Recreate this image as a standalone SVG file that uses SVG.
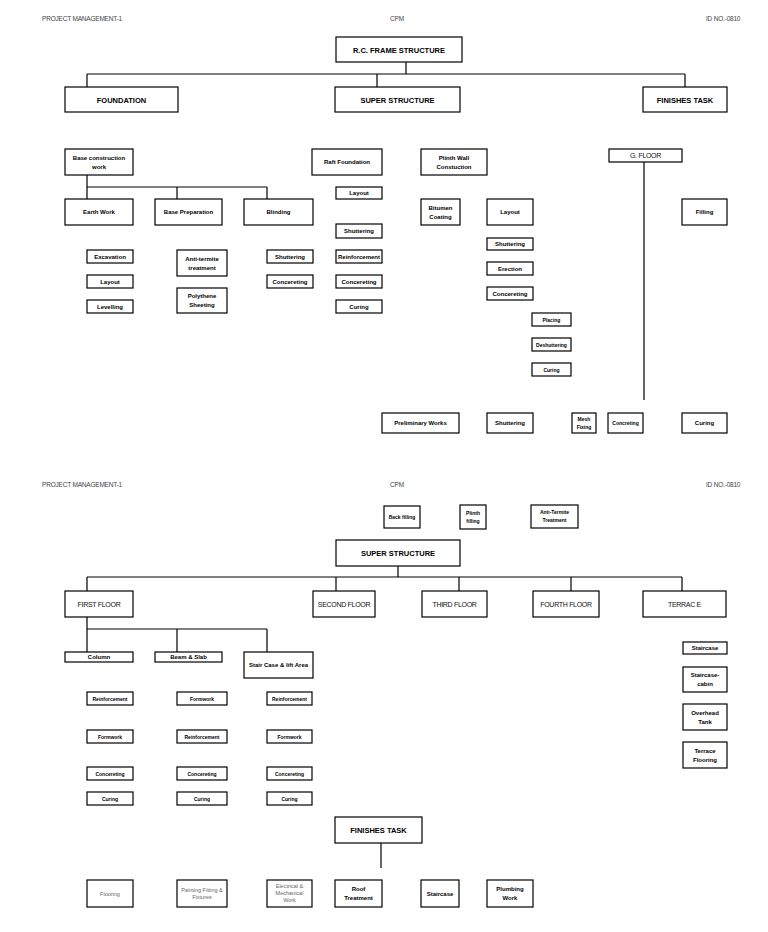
<svg xmlns="http://www.w3.org/2000/svg" width="768" height="932" viewBox="0 0 768 932">
<style>
.b{fill:#fff;stroke:#000;stroke-width:1.2}
.t{font-family:"Liberation Sans Narrow","Arial Narrow","Liberation Sans",sans-serif;font-weight:bold;font-size:6px;text-anchor:middle;fill:#000}
.m{font-size:7.5px}
.c{font-family:"Liberation Sans",Arial,sans-serif;font-weight:normal;font-size:7px;fill:#111;letter-spacing:-0.3px}
.g{font-family:"Liberation Sans",Arial,sans-serif;font-weight:normal;font-size:5.5px;fill:#666}
.s{font-size:5px}
.h{font-family:"Liberation Sans",Arial,sans-serif;font-size:6.5px;fill:#444;letter-spacing:-0.2px}
.e path,.e line{stroke:#000;stroke-width:1.2;fill:none}
</style>
<rect width="768" height="932" fill="#fff"/>
<g id="headers">
<text class="h" x="42" y="21">PROJECT MANAGEMENT-1</text>
<text class="h" x="390" y="21">CPM</text>
<text class="h" x="706" y="21">ID NO.-0810</text>
<text class="h" x="42" y="487">PROJECT MANAGEMENT-1</text>
<text class="h" x="390" y="487">CPM</text>
<text class="h" x="706" y="487">ID NO.-0810</text>
</g>
<g id="connectors" class="e">
<path d="M406 62V74M87 74H685M87 74V87M377 74V87M685 74V87"/>
<path d="M87 175V187H267M87 187V199M177 187V199M267 187V199"/>
<path d="M644 162V400"/>
<path d="M398 566V577M87 577H682M87 577V591M336 577V591M459 577V591M571 577V591M682 577V591"/>
<path d="M87 617V629H267M87 629V652M177 629V652M267 629V652"/>
<path d="M381 843V868"/>
</g>
<g id="rc"><rect class="b" x="336" y="37" width="126" height="25"/><text class="t m" x="399" y="52.5">R.C. FRAME STRUCTURE</text></g>
<g id="foundation"><rect class="b" x="65" y="87" width="113" height="25"/><text class="t m" x="121.5" y="102.5">FOUNDATION</text></g>
<g id="super1"><rect class="b" x="335" y="87" width="125" height="25"/><text class="t m" x="397.5" y="102.5">SUPER STRUCTURE</text></g>
<g id="finishes1"><rect class="b" x="643" y="87" width="84" height="25"/><text class="t m" x="685" y="102.5">FINISHES TASK</text></g>

<g id="basecon"><rect class="b" x="65" y="149" width="68" height="26"/><text class="t" x="99" y="159.5">Base construction</text><text class="t" x="99" y="168.5">work</text></g>
<g id="earth"><rect class="b" x="65" y="199" width="68" height="26"/><text class="t" x="99" y="214">Earth Work</text></g>
<g id="baseprep"><rect class="b" x="155" y="199" width="67" height="26"/><text class="t" x="188.5" y="214">Base Preparation</text></g>
<g id="blinding"><rect class="b" x="244" y="199" width="69" height="26"/><text class="t" x="278.5" y="214">Blinding</text></g>
<g id="excav"><rect class="b" x="87" y="250" width="46" height="13"/><text class="t" x="110" y="258.5">Excavation</text></g>
<g id="layout1"><rect class="b" x="87" y="275" width="46" height="13"/><text class="t" x="110" y="283.5">Layout</text></g>
<g id="level"><rect class="b" x="87" y="300" width="46" height="13"/><text class="t" x="110" y="308.5">Levelling</text></g>
<g id="antit"><rect class="b" x="177" y="250" width="50" height="26"/><text class="t" x="202" y="260.5">Anti-termite</text><text class="t" x="202" y="269.5">treatment</text></g>
<g id="poly"><rect class="b" x="177" y="288" width="50" height="25"/><text class="t" x="202" y="298">Polythene</text><text class="t" x="202" y="307">Sheeting</text></g>
<g id="shut1"><rect class="b" x="267" y="250" width="46" height="13"/><text class="t" x="290" y="258.5">Shuttering</text></g>
<g id="conc1"><rect class="b" x="267" y="275" width="46" height="13"/><text class="t" x="290" y="283.5">Concereting</text></g>

<g id="raft"><rect class="b" x="312" y="149" width="70" height="26"/><text class="t" x="347" y="164">Raft Foundation</text></g>
<g id="rlayout"><rect class="b" x="336" y="187" width="46" height="12"/><text class="t" x="359" y="195">Layout</text></g>
<g id="rshut"><rect class="b" x="336" y="224" width="46" height="14"/><text class="t" x="359" y="233">Shuttering</text></g>
<g id="rreinf"><rect class="b" x="336" y="250" width="46" height="13"/><text class="t" x="359" y="258.5">Reinforcement</text></g>
<g id="rconc"><rect class="b" x="336" y="275" width="46" height="13"/><text class="t" x="359" y="283.5">Concereting</text></g>
<g id="rcur"><rect class="b" x="336" y="300" width="46" height="13"/><text class="t" x="359" y="308.5">Curing</text></g>

<g id="plinth"><rect class="b" x="421" y="149" width="66" height="26"/><text class="t" x="454" y="159.5">Plinth Wall</text><text class="t" x="454" y="168.5">Constuction</text></g>
<g id="bitumen"><rect class="b" x="421" y="199" width="39" height="26"/><text class="t" x="440.5" y="209.5">Bitumen</text><text class="t" x="440.5" y="218.5">Coating</text></g>
<g id="playout"><rect class="b" x="487" y="199" width="46" height="26"/><text class="t" x="510" y="214">Layout</text></g>
<g id="pshut"><rect class="b" x="487" y="238" width="46" height="12"/><text class="t" x="510" y="246">Shuttering</text></g>
<g id="perect"><rect class="b" x="487" y="262" width="46" height="13"/><text class="t" x="510" y="270.5">Erection</text></g>
<g id="pconc"><rect class="b" x="487" y="287" width="46" height="13"/><text class="t" x="510" y="295.5">Concereting</text></g>
<g id="placing"><rect class="b" x="532" y="313" width="39" height="13"/><text class="t s" x="551.5" y="321.5">Placing</text></g>
<g id="deshut"><rect class="b" x="532" y="338" width="39" height="13"/><text class="t s" x="551.5" y="346.5">Deshuttering</text></g>
<g id="pcur"><rect class="b" x="532" y="363" width="39" height="13"/><text class="t s" x="551.5" y="371.5">Curing</text></g>

<g id="gfloor"><rect class="b" x="609" y="149" width="73" height="13"/><text class="t c" x="645.5" y="158">G. FLOOR</text></g>
<g id="filling"><rect class="b" x="682" y="199" width="45" height="26"/><text class="t" x="704.5" y="214">Filling</text></g>
<g id="prelim"><rect class="b" x="382" y="413" width="77" height="20"/><text class="t" x="420.5" y="425">Preliminary Works</text></g>
<g id="gshut"><rect class="b" x="487" y="413" width="46" height="20"/><text class="t" x="510" y="425">Shuttering</text></g>
<g id="mesh"><rect class="b" x="572" y="413" width="24" height="20"/><text class="t s" x="584" y="421">Mesh</text><text class="t s" x="584" y="428.5">Fixing</text></g>
<g id="gconc"><rect class="b" x="608" y="413" width="35" height="20"/><text class="t s" x="625.5" y="425">Concreting</text></g>
<g id="gcur"><rect class="b" x="682" y="413" width="45" height="20"/><text class="t" x="704.5" y="425">Curing</text></g>

<g id="backfill"><rect class="b" x="384" y="506" width="36" height="22"/><text class="t s" x="402" y="519">Back filling</text></g>
<g id="plinthfill"><rect class="b" x="460" y="505" width="26" height="24"/><text class="t s" x="473" y="514.5">Plinth</text><text class="t s" x="473" y="522.5">filling</text></g>
<g id="antiterm"><rect class="b" x="531" y="505" width="47" height="23"/><text class="t s" x="554.5" y="514">Anti-Termite</text><text class="t s" x="554.5" y="521.5">Treatment</text></g>
<g id="super2"><rect class="b" x="336" y="540" width="124" height="26"/><text class="t m" x="398" y="555.5">SUPER STRUCTURE</text></g>

<g id="firstfloor"><rect class="b" x="65" y="591" width="68" height="26"/><text class="t c" x="99" y="606.5">FIRST FLOOR</text></g>
<g id="secondfloor"><rect class="b" x="313" y="591" width="62" height="26"/><text class="t c" x="344" y="606.5">SECOND FLOOR</text></g>
<g id="thirdfloor"><rect class="b" x="422" y="591" width="65" height="26"/><text class="t c" x="454.5" y="606.5">THIRD FLOOR</text></g>
<g id="fourthfloor"><rect class="b" x="533" y="591" width="66" height="26"/><text class="t c" x="566" y="606.5">FOURTH FLOOR</text></g>
<g id="terrace"><rect class="b" x="643" y="591" width="83" height="26"/><text class="t c" x="684.5" y="606.5">TERRAC E</text></g>

<g id="column"><rect class="b" x="65" y="652" width="68" height="10"/><text class="t" x="99" y="659">Column</text></g>
<g id="beam"><rect class="b" x="155" y="652" width="67" height="10"/><text class="t" x="188.5" y="659">Beam &amp; Slab</text></g>
<g id="stair"><rect class="b" x="244" y="652" width="69" height="26"/><text class="t" x="278.5" y="667">Stair Case &amp; lift Area</text></g>

<g id="tstair"><rect class="b" x="683" y="642" width="44" height="12"/><text class="t" x="705" y="650">Staircase</text></g>
<g id="cabin"><rect class="b" x="683" y="667" width="44" height="25"/><text class="t" x="705" y="677">Staircase-</text><text class="t" x="705" y="686">cabin</text></g>
<g id="overhead"><rect class="b" x="683" y="704" width="44" height="26"/><text class="t" x="705" y="714.5">Overhead</text><text class="t" x="705" y="723.5">Tank</text></g>
<g id="tfloor"><rect class="b" x="683" y="742" width="44" height="26"/><text class="t" x="705" y="752.5">Terrace</text><text class="t" x="705" y="761.5">Flooring</text></g>

<g id="c1r1"><rect class="b" x="87" y="692" width="46" height="13"/><text class="t s" x="110" y="700.5">Reinforcement</text></g>
<g id="c1r2"><rect class="b" x="87" y="730" width="46" height="13"/><text class="t s" x="110" y="738.5">Formwork</text></g>
<g id="c1r3"><rect class="b" x="87" y="767" width="46" height="13"/><text class="t s" x="110" y="775.5">Concereting</text></g>
<g id="c1r4"><rect class="b" x="87" y="792" width="46" height="13"/><text class="t s" x="110" y="800.5">Curing</text></g>
<g id="c2r1"><rect class="b" x="177" y="692" width="50" height="13"/><text class="t s" x="202" y="700.5">Formwork</text></g>
<g id="c2r2"><rect class="b" x="177" y="730" width="50" height="13"/><text class="t s" x="202" y="738.5">Reinforcement</text></g>
<g id="c2r3"><rect class="b" x="177" y="767" width="50" height="13"/><text class="t s" x="202" y="775.5">Concereting</text></g>
<g id="c2r4"><rect class="b" x="177" y="792" width="50" height="13"/><text class="t s" x="202" y="800.5">Curing</text></g>
<g id="c3r1"><rect class="b" x="267" y="692" width="45" height="13"/><text class="t s" x="289.5" y="700.5">Reinforcement</text></g>
<g id="c3r2"><rect class="b" x="267" y="730" width="45" height="13"/><text class="t s" x="289.5" y="738.5">Formwork</text></g>
<g id="c3r3"><rect class="b" x="267" y="767" width="45" height="13"/><text class="t s" x="289.5" y="775.5">Concereting</text></g>
<g id="c3r4"><rect class="b" x="267" y="792" width="45" height="13"/><text class="t s" x="289.5" y="800.5">Curing</text></g>

<g id="finishes2"><rect class="b" x="335" y="817" width="87" height="26"/><text class="t m" x="378.5" y="832.5">FINISHES TASK</text></g>
<g id="flooring"><rect class="b" x="87" y="880" width="46" height="27"/><text class="t g" x="110" y="895.5">Flooring</text></g>
<g id="painting"><rect class="b" x="177" y="880" width="50" height="27"/><text class="t g" x="202" y="891.5">Painting Fitting &amp;</text><text class="t g" x="202" y="898.5">Fixtures</text></g>
<g id="electrical"><rect class="b" x="267" y="880" width="45" height="27"/><text class="t g" x="289.5" y="888">Electrical &amp;</text><text class="t g" x="289.5" y="895">Mechanical</text><text class="t g" x="289.5" y="902">Work</text></g>
<g id="roof"><rect class="b" x="335" y="880" width="47" height="27"/><text class="t" x="358.5" y="891">Roof</text><text class="t" x="358.5" y="900">Treatment</text></g>
<g id="stair2"><rect class="b" x="421" y="880" width="38" height="27"/><text class="t" x="440" y="895.5">Staircase</text></g>
<g id="plumbing"><rect class="b" x="487" y="880" width="46" height="27"/><text class="t" x="510" y="891">Plumbing</text><text class="t" x="510" y="900">Work</text></g>
</svg>
